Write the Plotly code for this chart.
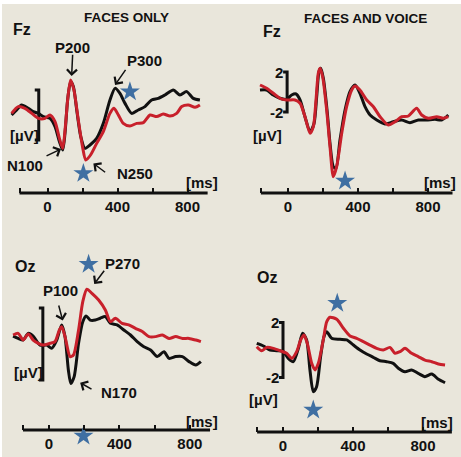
import plotly.graph_objects as go

W, H = 461, 457

# ---------------- data (ms, µV) ----------------
# Panel 1: Fz, faces only
p1_t_black = [-205, -176, -148, -110, -81, -52, -24, 14, 43, 68, 87, 100, 115, 132, 148, 167, 190, 214, 243, 281,
              319, 357, 386, 414, 443, 481, 519, 557, 595, 633, 671, 719, 757, 795, 833, 871]
p1_v_black = [0.0, 0.4, 0.8, 0.53, 0.27, 0.13, -0.13, -0.27, -0.93, -2.13, -2.8, -1.47, 1.2, 2.67, 2.27, 0.4, -1.73,
              -2.67, -2.4, -1.87, -0.67, 1.2, 2.13, 1.73, 0.93, 0.13, 0.4, 0.67, 1.2, 1.33, 1.6, 2.0, 1.6, 1.87, 1.33, 1.2]
p1_t_red = [-205, -167, -129, -90, -52, -14, 14, 43, 68, 87, 102, 117, 132, 151, 176, 200, 219, 246, 281, 319,
            357, 380, 405, 433, 471, 510, 548, 586, 624, 661, 700, 738, 767, 805, 843, 871]
p1_v_red = [0.13, 0.67, 0.53, 0.13, -0.27, -0.27, 0, -0.53, -1.87, -2.67, -0.93, 1.47, 2.8, 2.0, -0.4, -2.53, -3.6,
            -3.2, -2.27, -1.33, 0.13, 0.53, 0, -0.67, -0.88, -0.67, -0.61, 0, -0.13, 0.08, -0.08, 0.13, 0.67, 0.8,
            0.61, 0.8]

# Panel 2: Fz, faces and voice
p2_t_black = [-160, -122, -84, -46, -8, 21, 46, 69, 97, 126, 149, 164, 177, 187, 202, 225, 240, 259, 274, 297,
              326, 354, 383, 411, 440, 469, 507, 554, 602, 650, 697, 745, 792, 840, 878, 916]
p2_v_black = [0.2, 0.2, -0.3, -0.63, -0.73, -0.3, -0.2, -0.8, -2.47, -3.97, -3.13, -0.47, 2.03, 2.37, 1.37, -2.13,
              -5.13, -7.47, -7.63, -4.8, -1.8, 0.03, 0.7, -0.13, -1.47, -2.3, -2.8, -3.2, -2.97, -2.8, -3.07, -2.8,
              -2.8, -2.73, -2.8, -2.3]
p2_t_red = [-160, -122, -84, -46, -8, 40, 69, 97, 126, 145, 160, 173, 183, 198, 221, 240, 259, 278, 307, 335,
            364, 383, 411, 450, 488, 526, 573, 612, 650, 688, 735, 764, 802, 850, 888, 916]
p2_v_red = [0.7, 0.37, -0.13, -0.63, -0.8, -0.8, -1.13, -2.47, -4.13, -3.47, -0.8, 1.87, 2.37, 1.53, -1.8, -5.47,
            -8.47, -7.47, -4.13, -1.47, 0.2, 0.6, 0.2, -0.8, -1.47, -2.47, -3.3, -2.97, -2.47, -2.4, -1.63, -2.3,
            -2.63, -2.47, -2.63, -2.47]

# Panel 3: Oz, faces only
p3_t_black = [-204, -175, -147, -118, -90, -51, -13, 15, 44, 72, 91, 110, 124, 143, 168, 192, 211, 234, 263, 291,
              320, 349, 387, 425, 463, 501, 539, 577, 615, 653, 682, 720, 758, 796, 834, 863]
p3_v_black = [0.44, 0.31, 0.22, 0.59, 0.44, -0.06, -0.06, -0.24, 0.22, 1.06, 0.41, -1.44, -2.19, -1.81, 0.04, 1.24,
              1.56, 1.33, 1.33, 1.43, 1.52, 1.15, 1.06, 0.78, 0.5, 0.13, -0.15, -0.33, -0.7, -0.43, -0.8, -0.7,
              -0.7, -0.98, -1.17, -0.98]
p3_t_red = [-204, -175, -147, -118, -90, -61, -32, 6, 34, 59, 72, 91, 120, 139, 168, 192, 215, 244, 282, 320,
            349, 377, 415, 453, 491, 530, 568, 606, 644, 682, 720, 758, 796, 834, 863]
p3_v_red = [0.5, 0.59, 0.22, 0.56, 0.22, 0.04, -0.06, 0.04, 0.13, 0.78, 0.96, 0.41, -0.7, -0.61, 0.78, 2.35, 3.04,
            2.81, 2.44, 1.89, 1.24, 1.43, 1.15, 1.06, 0.87, 0.69, 0.41, 0.41, 0.5, 0.31, 0.41, 0.31, 0.31, 0.22,
            0.13]

# Panel 4: Oz, faces and voice
p4_t_black = [-150, -112, -74, -36, 2, 30, 59, 88, 112, 135, 154, 173, 192, 215, 234, 250, 278, 326, 364, 402,
              440, 478, 516, 554, 592, 630, 659, 697, 735, 773, 811, 850, 888, 926]
p4_v_black = [0.48, 0.29, 0, -0.05, -0.12, -0.61, -0.85, 0.12, 1.21, 0.73, -1.45, -3.03, -2.67, -0.48, 0.97, 1.33,
              0.85, 0.78, 0.73, 0.36, 0, -0.29, -0.53, -0.78, -0.85, -0.97, -1.33, -1.58, -1.45, -1.7, -1.94,
              -1.75, -2.13, -2.38]
p4_t_red = [-150, -122, -93, -55, -17, 21, 50, 78, 101, 120, 139, 164, 183, 202, 230, 250, 269, 307, 345, 383,
            421, 459, 497, 535, 573, 611, 640, 669, 697, 735, 773, 811, 850, 888, 926]
p4_v_red = [0.24, -0.05, 0.19, 0.12, -0.05, -0.24, -0.61, -0.12, 0.73, 1.09, 0.48, -0.97, -1.45, -0.97, 0.73, 2.06,
            2.38, 2.23, 1.58, 1.02, 0.85, 0.61, 0.36, 0.12, 0, 0.19, -0.24, -0.12, 0.12, -0.24, -0.48, -0.73,
            -0.85, -1.02, -1.09]

# significance stars (ms, µV)
p1_star_t, p1_star_v = [471, 205], [1.86, -4.67]
p2_star_t, p2_star_v = [326], [-8.9]
p3_star_t, p3_star_v = [225, 196], [4.43, -5.11]
p4_star_t, p4_star_v = [310, 173], [3.4, -4.36]

tick_vals = [0, 200, 400, 600, 800]
tick_text = ["0", "", "400", "", "800"]
scale_uv = [2, -2]
scale_text = ["2", "-2"]

# labels: (text, ms, µV, size)
p1_labels = [("Fz", -148, 6.85, 16), ("FACES ONLY", 454, 7.8, 13.5), ("P200", 144, 5.41, 15),
             ("P300", 557, 4.4, 15), ("[µV]", -129, -1.6, 15), ("N100", -129, -4.0, 15),
             ("N250", 500, -4.67, 15), ("[ms]", 881, -5.41, 15)]
p2_labels = [("Fz", -93, 6.03, 16), ("FACES AND VOICE", 440, 7.4, 13.5), ("[µV]", -118, -4.3, 15),
             ("[ms]", 869, -9.07, 15)]
p3_labels = [("Oz", -137, 4.3, 16), ("P270", 415, 4.48, 15), ("P100", 63, 3.0, 15), ("[µV]", -118, -1.59, 15),
             ("N170", 400, -2.69, 15), ("[ms]", 872, -4.31, 15)]
p4_labels = [("Oz", -93, 5.26, 16), ("[µV]", -112, -3.59, 15), ("[ms]", 878, -5.28, 15)]

# arrows: (tail ms, tail µV, head ms, head µV)
p1_arrows = [(144, 4.94, 138, 3.12), (452, 3.73, 386, 2.4), (-14, -3.33, 77, -2.72), (338, -4.67, 262, -3.87)]
p2_arrows = []
p3_arrows = [(320, 4.15, 257, 3.33), (53, 2.22, 78, 1.3), (250, -2.56, 177, -2.15)]
p4_arrows = []

# ---------------- layout of the four panels (pixel geometry) ----------------
PANELS = [
    dict(box=(0, 230.5, 0, 228.5), x0=47.5, sx=0.175, y0=115, sy=12.5, axis_py=193, axis_ms=(-160, 915),
         bar_ms=-50, bar_labels=False),
    dict(box=(230.5, 461, 0, 228.5), x0=288, sx=0.175, y0=92, sy=10, axis_py=193, axis_ms=(-155, 940),
         bar_ms=-5, bar_labels=True),
    dict(box=(0, 230.5, 228.5, 457), x0=49, sx=0.176, y0=344, sy=18, axis_py=430, axis_ms=(-148, 915),
         bar_ms=-35, bar_labels=False),
    dict(box=(230.5, 461, 228.5, 457), x0=283, sx=0.175, y0=350, sy=13.75, axis_py=432, axis_ms=(-148, 965),
         bar_ms=0, bar_labels=True),
]
DATA = [
    (p1_t_black, p1_v_black, p1_t_red, p1_v_red, p1_star_t, p1_star_v, p1_labels, p1_arrows),
    (p2_t_black, p2_v_black, p2_t_red, p2_v_red, p2_star_t, p2_star_v, p2_labels, p2_arrows),
    (p3_t_black, p3_v_black, p3_t_red, p3_v_red, p3_star_t, p3_star_v, p3_labels, p3_arrows),
    (p4_t_black, p4_v_black, p4_t_red, p4_v_red, p4_star_t, p4_star_v, p4_labels, p4_arrows),
]

BG = "#e9e6db"
BLACK = "#111111"
RED = "#c8202b"
STAR = "#3f6fa2"
FONT = "Liberation Sans, Arial, sans-serif"

fig = go.Figure()
layout = dict(width=W, height=H, margin=dict(l=0, r=0, t=0, b=0), paper_bgcolor=BG,
              plot_bgcolor="rgba(0,0,0,0)", showlegend=False)
shapes, annotations = [], []

for i, (pan, dat) in enumerate(zip(PANELS, DATA), start=1):
    xs = "" if i == 1 else str(i)
    xa, ya = "x" + xs, "y" + xs
    px0, px1, py0, py1 = pan["box"]
    xr = [(px0 - pan["x0"]) / pan["sx"], (px1 - pan["x0"]) / pan["sx"]]
    yr = [(pan["y0"] - py1) / pan["sy"], (pan["y0"] - py0) / pan["sy"]]
    axis_uv = (pan["y0"] - pan["axis_py"]) / pan["sy"]
    tb, vb, tr, vr, st, sv, labels, arrows = dat

    layout["xaxis" + xs] = dict(domain=[px0 / W, px1 / W], range=xr, anchor="free",
                                position=1 - pan["axis_py"] / H, showgrid=False, zeroline=False,
                                showline=False, ticks="inside", ticklen=5, tickwidth=2, tickcolor=BLACK,
                                tickvals=[pan["axis_ms"][0]] + tick_vals, ticktext=[""] + tick_text,
                                tickfont=dict(family=FONT, size=15, color=BLACK, weight="bold"),
                                ticklabelstandoff=3, fixedrange=True)
    layout["yaxis" + xs] = dict(domain=[1 - py1 / H, 1 - py0 / H], range=yr, anchor=xa,
                                visible=False, fixedrange=True)

    fig.add_trace(go.Scatter(x=tb, y=vb, mode="lines", xaxis=xa, yaxis=ya, hoverinfo="skip",
                             line=dict(color=BLACK, width=3, shape="spline", smoothing=0.7)))
    fig.add_trace(go.Scatter(x=tr, y=vr, mode="lines", xaxis=xa, yaxis=ya, hoverinfo="skip",
                             line=dict(color=RED, width=3, shape="spline", smoothing=0.7)))
    fig.add_trace(go.Scatter(x=st, y=sv, mode="markers", xaxis=xa, yaxis=ya, cliponaxis=False,
                             hoverinfo="skip",
                             marker=dict(symbol="star", size=15, color=STAR, line=dict(width=0))))

    # time axis line
    shapes.append(dict(type="line", xref=xa, yref=ya, x0=pan["axis_ms"][0], x1=pan["axis_ms"][1],
                       y0=axis_uv, y1=axis_uv, line=dict(color=BLACK, width=3), layer="below"))
    # amplitude scale bracket
    cap = 4 / pan["sx"]
    bx = pan["bar_ms"]
    shapes.append(dict(type="path", xref=xa, yref=ya,
                       path=f"M{bx - cap},{scale_uv[0]} L{bx},{scale_uv[0]} L{bx},{scale_uv[1]} L{bx - cap},{scale_uv[1]}",
                       line=dict(color=BLACK, width=3), layer="below"))
    if pan["bar_labels"]:
        for val, txt in zip(scale_uv, scale_text):
            annotations.append(dict(xref=xa, yref=ya, x=bx, y=val, text=txt, showarrow=False,
                                    xanchor="right", xshift=-2,
                                    font=dict(family=FONT, size=15, color=BLACK, weight="bold")))
    for txt, t, v, size in labels:
        annotations.append(dict(xref=xa, yref=ya, x=t, y=v, text=txt, showarrow=False,
                                font=dict(family=FONT, size=size, color=BLACK, weight="bold")))
    for t0, v0, t1, v1 in arrows:
        annotations.append(dict(xref=xa, yref=ya, x=t1, y=v1, ax=t0, ay=v0, axref=xa, ayref=ya,
                                text="", showarrow=True, arrowhead=4, arrowsize=1.3, arrowwidth=1.5,
                                arrowcolor=BLACK))

# thin white border of the scanned figure
shapes.append(dict(type="rect", xref="paper", yref="paper", x0=0, x1=1, y0=1 - 4 / H, y1=1,
                   fillcolor="white", line=dict(width=0), layer="below"))
shapes.append(dict(type="rect", xref="paper", yref="paper", x0=0, x1=2 / W, y0=0, y1=1,
                   fillcolor="white", line=dict(width=0), layer="below"))

layout["shapes"] = shapes
layout["annotations"] = annotations
fig.update_layout(**layout)
fig.write_html("out.html", config={"displayModeBar": False},
               post_script="document.body.style.margin='0px';")
